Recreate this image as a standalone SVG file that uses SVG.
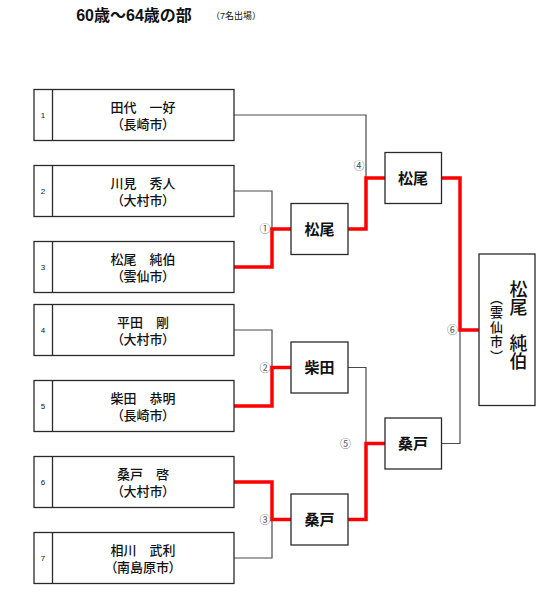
<svg xmlns="http://www.w3.org/2000/svg" width="552" height="596" viewBox="0 0 552 596">
<style>
.bg{fill:#ffffff}
.box{fill:#ffffff;stroke:#2a2a2a;stroke-width:1.3}
.div{stroke:#2a2a2a;stroke-width:1.3}
.jp{font-family:"Liberation Sans","Noto Sans CJK JP",sans-serif;fill:#111}
.name{font-size:13px;text-anchor:middle;font-weight:500}
.city{font-size:13px;text-anchor:middle;font-weight:500;font-feature-settings:"palt"}
.num{font-size:8px;text-anchor:middle}
.win{font-size:15px;font-weight:bold;text-anchor:middle}
.lose{fill:none;stroke:#4a4a4a;stroke-width:1.2}
.won{fill:none;stroke:#ff0000;stroke-width:3.5;stroke-linejoin:miter}
.mno{font-family:"Noto Sans CJK JP","DejaVu Sans",sans-serif;font-size:11px;fill:#555;text-anchor:middle}
</style>
<rect class="bg" x="0" y="0" width="552" height="596"/>
<g id="title">
<text class="jp" x="134" y="21" font-size="16" font-weight="bold" text-anchor="middle">60歳～64歳の部</text>
<text class="jp" x="211" y="19" font-size="9">（7名出場）</text>
</g>
<g id="connectors">
<path class="lose" d="M234,191H272V229"/>
<path class="lose" d="M234,330H272V367.5"/>
<path class="lose" d="M234,558H272V519.5"/>
<path class="lose" d="M234,115H366V178"/>
<path class="lose" d="M348,367.5H366V443.5"/>
<path class="lose" d="M441.5,443.5H460V330"/>
<path class="won" d="M234,267H272V229H291"/>
<path class="won" d="M234,406H272V367.5H291"/>
<path class="won" d="M234,482H272V519.5H291"/>
<path class="won" d="M348,229H366V178H385"/>
<path class="won" d="M348,519.5H366V443.5H385"/>
<path class="won" d="M441.5,178H460V330H479"/>
<text class="mno" x="265" y="233">①</text>
<text class="mno" x="265" y="371.5">②</text>
<text class="mno" x="265" y="523.5">③</text>
<text class="mno" x="359" y="170">④</text>
<text class="mno" x="345.5" y="447.5">⑤</text>
<text class="mno" x="452.5" y="334">⑥</text>
</g>
<g id="p1">
<rect class="box" x="34" y="89.5" width="200" height="51"/>
<line class="div" x1="52.5" y1="89.5" x2="52.5" y2="140.5"/>
<text class="jp num" x="43" y="118">1</text>
<text class="jp name" x="143" y="112">田代　一好</text>
<text class="jp city" x="143" y="128.5">（長崎市）</text>
</g>
<g id="p2">
<rect class="box" x="34" y="165.5" width="200" height="51"/>
<line class="div" x1="52.5" y1="165.5" x2="52.5" y2="216.5"/>
<text class="jp num" x="43" y="194">2</text>
<text class="jp name" x="143" y="188">川見　秀人</text>
<text class="jp city" x="143" y="204.5">（大村市）</text>
</g>
<g id="p3">
<rect class="box" x="34" y="241.5" width="200" height="51"/>
<line class="div" x1="52.5" y1="241.5" x2="52.5" y2="292.5"/>
<text class="jp num" x="43" y="270">3</text>
<text class="jp name" x="143" y="264">松尾　純伯</text>
<text class="jp city" x="143" y="280.5">（雲仙市）</text>
</g>
<g id="p4">
<rect class="box" x="34" y="304.5" width="200" height="51"/>
<line class="div" x1="52.5" y1="304.5" x2="52.5" y2="355.5"/>
<text class="jp num" x="43" y="333">4</text>
<text class="jp name" x="143" y="327">平田　剛</text>
<text class="jp city" x="143" y="343.5">（大村市）</text>
</g>
<g id="p5">
<rect class="box" x="34" y="380.5" width="200" height="51"/>
<line class="div" x1="52.5" y1="380.5" x2="52.5" y2="431.5"/>
<text class="jp num" x="43" y="409">5</text>
<text class="jp name" x="143" y="403">柴田　恭明</text>
<text class="jp city" x="143" y="419.5">（長崎市）</text>
</g>
<g id="p6">
<rect class="box" x="34" y="456.5" width="200" height="51"/>
<line class="div" x1="52.5" y1="456.5" x2="52.5" y2="507.5"/>
<text class="jp num" x="43" y="485">6</text>
<text class="jp name" x="143" y="479">桑戸　啓</text>
<text class="jp city" x="143" y="495.5">（大村市）</text>
</g>
<g id="p7">
<rect class="box" x="34" y="532.5" width="200" height="51"/>
<line class="div" x1="52.5" y1="532.5" x2="52.5" y2="583.5"/>
<text class="jp num" x="43" y="561">7</text>
<text class="jp name" x="143" y="555">相川　武利</text>
<text class="jp city" x="143" y="571.5">（南島原市）</text>
</g>
<g id="r2-1">
<rect class="box" x="291" y="203.5" width="57" height="51"/>
<text class="jp win" x="319.5" y="234.5">松尾</text>
</g>
<g id="r2-2">
<rect class="box" x="291" y="342" width="57" height="51"/>
<text class="jp win" x="319.5" y="373">柴田</text>
</g>
<g id="r2-3">
<rect class="box" x="291" y="494" width="57" height="51"/>
<text class="jp win" x="319.5" y="525">桑戸</text>
</g>
<g id="r3-1">
<rect class="box" x="385" y="152.5" width="56.5" height="51"/>
<text class="jp win" x="413" y="183.5">松尾</text>
</g>
<g id="r3-2">
<rect class="box" x="385" y="418" width="56.5" height="51"/>
<text class="jp win" x="413" y="449">桑戸</text>
</g>
<g id="champion">
<rect class="box" x="479" y="254" width="56" height="151.5"/>
<text class="jp" x="516.5" y="325" font-size="18" font-weight="500" writing-mode="vertical-rl" text-anchor="middle">松尾　純伯</text>
<text class="jp" x="495.5" y="327.5" font-size="13" font-weight="500" letter-spacing="1.5" writing-mode="vertical-rl" text-anchor="middle">（雲仙市）</text>
</g>
</svg>
